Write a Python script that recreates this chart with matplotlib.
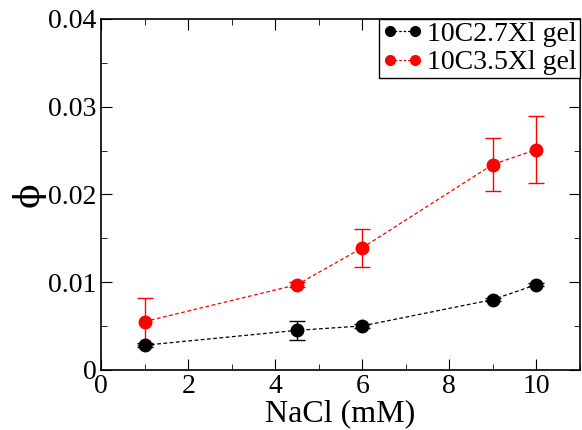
import matplotlib
matplotlib.use("Agg")
import matplotlib.pyplot as plt
from matplotlib.lines import Line2D
from matplotlib.ticker import MultipleLocator

plt.rcParams["font.family"] = ["Liberation Serif", "DejaVu Serif"]

nacl = [1, 4.5, 6, 9, 10]
phi_27 = [0.0028, 0.0045, 0.0050, 0.0080, 0.0097]
err_27 = [0.0002, 0.0011, 0.0002, 0.0002, 0.0002]
phi_35 = [0.0055, 0.0097, 0.0139, 0.0234, 0.0251]
err_35 = [0.0027, 0.0003, 0.0022, 0.0030, 0.0038]
labels = ["10C2.7Xl gel", "10C3.5Xl gel"]

fig, ax = plt.subplots(figsize=(5.82, 4.30), dpi=100)
fig.subplots_adjust(left=0.174, right=0.996, top=0.956, bottom=0.14)

handles = []
for y, e, c, lab in [(phi_27, err_27, "black", labels[0]),
                     (phi_35, err_35, "red", labels[1])]:
    ax.errorbar(nacl, y, yerr=e, color=c, fmt="o", ls="--", lw=0.9,
                ms=9, capsize=6, elinewidth=1.0, capthick=1.0,
                dashes=(3, 2), zorder=3)
    handles.append(Line2D([], [], color=c, marker="o", ms=7, ls="--",
                          lw=0.9, dashes=(2, 1.5), label=lab))

ax.set_xlim(0, 11)
ax.set_ylim(0, 0.04)
ax.xaxis.set_major_locator(MultipleLocator(2))
ax.xaxis.set_minor_locator(MultipleLocator(1))
ax.yaxis.set_minor_locator(MultipleLocator(0.005))
ax.set_yticks([0, 0.01, 0.02, 0.03, 0.04])
ax.set_yticklabels(["0", "0.01", "0.02", "0.03", "0.04"])
ax.tick_params(which="both", direction="in", top=True, right=True, labelsize=20)
ax.tick_params(which="major", length=8)
ax.tick_params(which="minor", length=4)
ax.tick_params(axis="x", pad=3)
for s in ax.spines.values():
    s.set_linewidth(1.2)

ax.set_xlabel("NaCl (mM)", fontsize=23, labelpad=0)
ax.set_ylabel("\u03d5", fontsize=26, labelpad=2, rotation=90,
              family=["DejaVu Serif"])

leg = ax.legend(handles=handles, loc="upper right", fontsize=20, frameon=True,
                fancybox=False, edgecolor="black", framealpha=1,
                handlelength=1.5, numpoints=2, handletextpad=0.15,
                borderpad=0.1, borderaxespad=0.0, labelspacing=0.1)
leg.get_frame().set_linewidth(1.0)

fig.savefig("out.png", dpi=100)
